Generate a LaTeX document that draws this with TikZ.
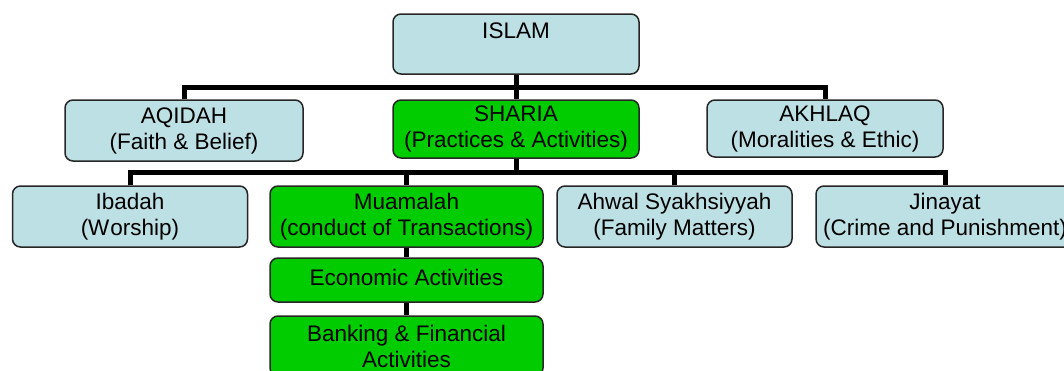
\documentclass[tikz,border=0pt]{standalone}
\usepackage{fontspec}
\setmainfont{Liberation Sans}
\usepackage{xcolor}
\usepackage{tikz}
\usetikzlibrary{positioning}
\definecolor{boxblue}{RGB}{189, 224, 228}
\definecolor{boxgreen}{RGB}{0, 204, 0}

\begin{document}
\begin{tikzpicture}[x=1pt, y=-1pt,
    topic/.style={draw=black!85, line width=1.5pt, rounded corners=8pt, align=center,
        font=\fontsize{22.5}{26}\selectfont, inner sep=0pt},
    bluebox/.style={topic, fill=boxblue},
    greenbox/.style={topic, fill=boxgreen},
    link/.style={line width=5pt, line join=miter},
]
    \useasboundingbox (0,0) rectangle (1064,370);

    % Top level
    \node[bluebox, minimum width=246pt, minimum height=60pt] (islam) at (516,44) {ISLAM\\~};

    % Second level
    \node[bluebox, minimum width=238pt, minimum height=61pt] (aqidah) at (184,130.5) {AQIDAH\\(Faith \& Belief)};
    \node[greenbox, minimum width=246pt, minimum height=58pt] (sharia) at (516,129) {SHARIA\\(Practices \& Activities)};
    \node[bluebox, minimum width=236pt, minimum height=57pt] (akhlaq) at (825,128.5) {AKHLAQ\\(Moralities \& Ethic)};

    % Third level
    \node[bluebox, minimum width=235pt, minimum height=61pt] (ibadah) at (130,216.5) {Ibadah\\(W\kern1pt orship)};
    \node[greenbox, minimum width=273pt, minimum height=61pt] (muamalah) at (406.5,216.5) {Muamalah\\(conduct of Transactions)};
    \node[bluebox, minimum width=235pt, minimum height=61pt] (ahwal) at (674.5,216.5) {Ahwal Syakhsiyyah\\(Family Matters)};
    \node[bluebox, minimum width=258pt, minimum height=61pt] (jinayat) at (945,216.5) {Jinayat\\(Crime and Punishment)};

    % Below Muamalah
    \node[greenbox, minimum width=273pt, minimum height=44pt] (economic) at (406.5,280) {\raisebox{5pt}{Economic Activities}};
    \node[greenbox, minimum width=273pt, minimum height=60pt] (banking) at (406.5,346) {Banking \& Financial\\Activities};

    % Connectors
    \coordinate (bus1) at (516,87);
    \coordinate (bus2) at (516,172);
    \draw[link] (islam.south) -- (bus1);
    \draw[link] (aqidah.north) |- (bus1) -| (akhlaq.north);
    \draw[link] (bus1) -- (sharia.north);
    \draw[link] (sharia.south) -- (bus2);
    \draw[link] (ibadah.north) |- (bus2) -| (jinayat.north);
    \draw[link] (muamalah.north) -- (muamalah.north |- bus2);
    \draw[link] (ahwal.north) -- (ahwal.north |- bus2);
    \draw[link] (muamalah) -- (economic);
    \draw[link] (economic) -- (banking);
\end{tikzpicture}
\end{document}
